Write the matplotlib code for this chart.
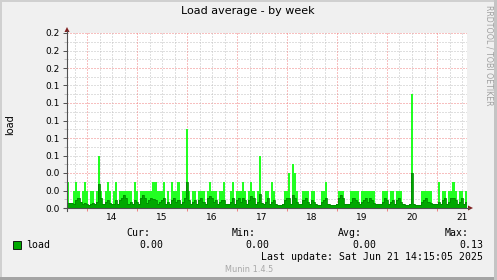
import matplotlib

matplotlib.use("Agg")
import matplotlib.pyplot as plt
import numpy as np
from matplotlib.lines import Line2D
from matplotlib.patches import Polygon, Rectangle

W, H = 497, 280

# hourly samples from Jun 13 14:24; max in 1/100 load, avg in 1/1000 load
start_day = 13.6
load_max_cl = [
    3, 0, 0, 2, 3, 2, 0, 2, 3, 2, 0, 2, 2, 0, 2, 6, 2, 0, 2, 3, 2, 0, 2, 3,
    0, 2, 2, 2, 2, 2, 2, 0, 3, 2, 0, 2, 2, 2, 2, 2, 2, 3, 3, 2, 2, 2, 3, 0,
    2, 0, 3, 2, 2, 3, 0, 2, 2, 9, 2, 0, 2, 2, 0, 2, 2, 2, 0, 2, 3, 2, 2, 2,
    0, 2, 2, 3, 0, 0, 2, 3, 0, 2, 2, 2, 3, 2, 0, 2, 3, 2, 0, 2, 6, 0, 0, 2,
    2, 0, 3, 2, 0, 0, 0, 0, 2, 2, 4, 0, 5, 4, 2, 0, 0, 2, 2, 2, 0, 2, 2, 0,
    0, 0, 2, 2, 3, 0, 0, 0, 0, 0, 2, 2, 2, 0, 0, 0, 2, 2, 2, 2, 0, 2, 2, 2,
    2, 2, 2, 2, 0, 0, 0, 2, 2, 2, 0, 2, 2, 0, 2, 2, 2, 0, 0, 0, 0, 13, 0, 0,
    0, 0, 2, 2, 2, 2, 2, 0, 0, 0, 3, 0, 2, 2, 0, 2, 2, 3, 2, 0, 2, 2, 0, 2,
]
load_avg_ml = [
    6, 6, 6, 5, 9, 11, 7, 5, 6, 5, 4, 5, 6, 5, 7, 28, 11, 5, 7, 9, 6, 5, 5, 9,
    5, 9, 12, 15, 11, 5, 7, 5, 9, 7, 5, 11, 15, 12, 6, 9, 12, 10, 9, 5, 7, 9, 11, 5,
    7, 5, 9, 11, 7, 9, 5, 7, 11, 30, 9, 5, 7, 9, 5, 9, 11, 7, 5, 11, 14, 11, 7, 9,
    5, 7, 9, 9, 5, 5, 7, 11, 5, 9, 12, 7, 11, 9, 5, 9, 14, 11, 5, 7, 16, 6, 5, 7,
    11, 5, 7, 9, 5, 4, 4, 5, 9, 11, 12, 5, 15, 12, 7, 5, 5, 9, 11, 7, 5, 9, 7, 5,
    4, 4, 7, 9, 11, 5, 4, 4, 4, 5, 11, 15, 11, 5, 5, 5, 7, 11, 9, 7, 5, 7, 9, 11,
    7, 11, 9, 6, 5, 5, 5, 7, 11, 9, 5, 7, 9, 5, 9, 11, 7, 5, 4, 4, 5, 40, 5, 4,
    4, 4, 7, 9, 11, 7, 6, 5, 5, 5, 7, 5, 9, 11, 5, 7, 11, 12, 9, 5, 7, 11, 5, 7,
]
day_ticks = [14.5, 15.5, 16.5, 17.5, 18.5, 19.5, 20.5, 21.5]
day_labels = ["14", "15", "16", "17", "18", "19", "20", "21"]
y_ticks = [0.0, 0.02, 0.04, 0.06, 0.08, 0.10, 0.12, 0.14, 0.16, 0.18, 0.20]
y_labels = ["0.0", "0.0", "0.0", "0.1", "0.1", "0.1", "0.1", "0.1", "0.2", "0.2", "0.2"]
legend_heads = ["Cur:", "Min:", "Avg:", "Max:"]
legend_vals = ["0.00", "0.00", "0.00", "0.13"]

BRIGHT = "#22FF22"
DARK = "#00A800"
GRID = "#C0C0C0"
MAJOR = "#F08080"
AXIS = "#505050"
ARROW = "#802020"


def fx(px):
    return px / W


def fy(py):
    return 1 - py / H


fig = plt.figure(figsize=(W / 100, H / 100), dpi=100, facecolor="#F0F0F0")

# frame shading
fig.add_artist(Rectangle((0, fy(2)), 1, 2 / H, transform=fig.transFigure, color="#D0D0D0", lw=0))
fig.add_artist(Rectangle((0, 0), 2 / W, 1, transform=fig.transFigure, color="#D0D0D0", lw=0))
fig.add_artist(Rectangle((0, 0), 1, 3 / H, transform=fig.transFigure, color="#A4A4A4", lw=0))
fig.add_artist(Rectangle((fx(494), 0), 3 / W, 1, transform=fig.transFigure, color="#C4C4C4", lw=0))

ax = fig.add_axes([fx(67), fy(208), fx(400), 175 / H])
ax.set_facecolor("white")
ax.set_xlim(start_day, start_day + 8)
ax.set_ylim(0, 0.2)
for s in ax.spines.values():
    s.set_visible(False)

# dotted grid, red every 0.04 / at midnight
dots = dict(lw=0.72, ls=(0, (1, 2)), zorder=0, snap=True)
for k in range(1, 21):
    ax.axhline(k * 0.01, color=MAJOR if k % 4 == 0 else GRID, **dots)
for k in range(1, 33):
    t = 13.5 + k * 0.25
    if t <= start_day or t >= start_day + 8:
        continue
    ax.axvline(t, color=MAJOR if k % 4 == 2 else GRID, **dots)

edges = start_day + np.arange(len(load_max_cl) + 1) / 24
ax.stairs(np.array(load_max_cl) / 100, edges, fill=True, color=BRIGHT, lw=0, zorder=2)
ax.stairs(np.array(load_avg_ml) / 1000, edges, fill=True, color=DARK, lw=0, zorder=3)
ax.stairs(np.array(load_avg_ml) / 1000, edges, color="#008A00", lw=0.6, zorder=4)

ax.set_yticks(y_ticks)
ax.set_yticklabels(y_labels)
ax.set_yticks(np.arange(1, 20, 2) * 0.01, minor=True)
ax.set_xticks(day_ticks)
ax.set_xticklabels(day_labels)
ax.set_xticks(np.arange(14, 22), minor=True)
ax.tick_params(axis="y", which="major", length=3, width=0.7, color=AXIS, pad=2, labelsize=6.5)
ax.tick_params(axis="y", which="minor", length=2, width=0.7, color=GRID)
ax.tick_params(axis="x", which="major", length=0, pad=3.5, labelsize=6.5)
ax.tick_params(axis="x", which="minor", length=2, width=0.7, color=MAJOR)

# axes with arrow heads
fig.add_artist(Line2D([fx(67), fx(67)], [fy(211), fy(31)], color=AXIS, lw=0.8))
fig.add_artist(Line2D([fx(64), fx(469)], [fy(208), fy(208)], color=AXIS, lw=0.8))
fig.add_artist(Polygon([(fx(64.5), fy(32)), (fx(69.5), fy(32)), (fx(67), fy(27))],
                       closed=True, transform=fig.transFigure, color=ARROW, lw=0))
fig.add_artist(Polygon([(fx(468), fy(205.5)), (fx(468), fy(210.5)), (fx(473), fy(208))],
                       closed=True, transform=fig.transFigure, color=ARROW, lw=0))

fig.text(fx(248), fy(11), "Load average - by week", ha="center", va="center", fontsize=8,
         family="DejaVu Sans")
fig.text(fx(10), fy(125), "load", ha="center", va="center", rotation=90, fontsize=7,
         family="DejaVu Sans")
fig.text(fx(488.5), fy(5), "RRDTOOL / TOBI OETIKER", ha="center", va="top", rotation=270,
         fontsize=5.7, color="#A0A0A0", family="DejaVu Sans")

mono = dict(family="DejaVu Sans Mono", fontsize=7.1, va="center")
for head, val, right_h, right_v in zip(legend_heads, legend_vals, [150, 256, 362, 469], [163, 269, 376, 483]):
    fig.text(fx(right_h), fy(233), head, ha="right", **mono)
    fig.text(fx(right_v), fy(245), val, ha="right", **mono)
fig.add_artist(Rectangle((fx(13), fy(249)), 8 / W, 8 / H, transform=fig.transFigure,
                         facecolor=DARK, edgecolor="black", lw=0.6))
fig.text(fx(26), fy(245), "load", ha="left", **mono)
fig.text(fx(483), fy(257), "Last update: Sat Jun 21 14:15:05 2025", ha="right", **mono)
fig.text(fx(249), fy(269), "Munin 1.4.5", ha="center", va="center", fontsize=5.9,
         color="#A8A8A8", family="DejaVu Sans")

fig.savefig("out.png", dpi=100, facecolor=fig.get_facecolor())
